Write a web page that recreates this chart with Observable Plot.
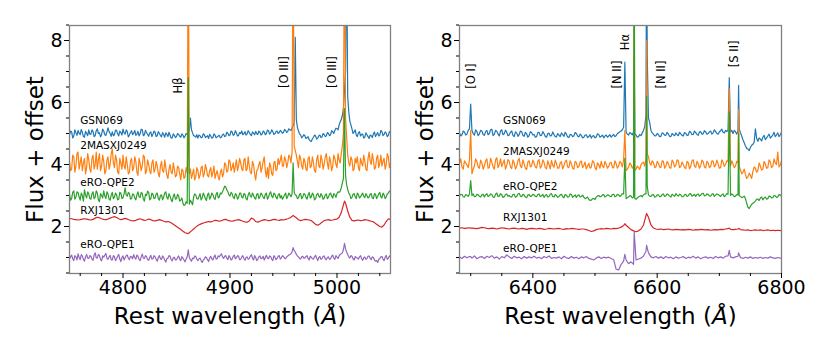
<!DOCTYPE html>
<html><head><meta charset="utf-8">
<script src="https://cdn.jsdelivr.net/npm/d3@7"></script>
<script src="https://cdn.jsdelivr.net/npm/@observablehq/plot@0.6"></script>
<style>
html,body{margin:0;padding:0;background:#fff;}
#wrap{display:flex;width:830px;height:356px;overflow:hidden;}
#wrap svg{display:block;}
</style></head><body><div id="wrap"></div>
<script>
// ---------- series ----------
const names = ["GSN069","2MASXJ0249","eRO-QPE2","RXJ1301","eRO-QPE1"];
const colors = ["#1f77b4","#ff7f0e","#2ca02c","#d62728","#9467bd"];

// ---------- left panel (H-beta / [O III]) ----------
// values read every 2 Å from 4750 (even) and, for the noisy spectra, in between (odd Å from 4751)
const startL = 4750, midStartL = 4751, stepL = 2;
const gsnL = [
4.95,5.05,4.92,5.02,5.10,4.96,5.04,4.88,5.00,5.12,
4.98,5.06,4.93,5.15,5.02,4.97,5.08,4.94,5.18,5.00,
5.05,4.96,5.10,4.92,5.03,5.14,4.98,5.06,4.95,5.09,
5.01,4.94,5.07,4.99,5.12,4.96,5.03,4.91,5.05,4.98,
5.04,4.93,5.00,4.89,4.97,5.02,4.90,4.95,4.86,4.94,
4.90,4.97,4.88,4.95,4.92,4.98,5.10,5.12,4.93,4.88,
4.85,4.93,4.88,4.96,4.90,4.84,4.92,4.87,4.95,4.89,
4.94,4.88,4.98,4.92,5.01,4.95,5.05,4.97,5.02,4.94,
5.00,4.96,5.06,4.99,5.03,4.93,5.01,5.07,4.97,5.04,
4.98,5.05,5.00,5.09,5.02,5.06,4.99,5.08,5.03,5.06,
5.04,5.10,5.07,5.12,5.18,5.35,5.45,5.08,4.95,4.90,
4.93,4.86,4.80,4.74,4.88,4.92,4.85,4.95,4.89,4.97,
4.92,5.00,4.96,5.06,5.10,5.16,5.28,5.45,5.80,7.00,
6.20,5.40,5.15,5.05,4.95,5.02,4.92,4.98,4.88,4.96,
4.84,4.93,4.99,4.90,5.03,4.95,5.06,4.97,5.01,4.94,
5.02,4.98];
const gsnMidL = [
5.08,4.86,5.12,4.94,5.01,5.13,4.90,5.07,4.93,4.97,
5.12,4.90,5.09,5.00,4.89,5.14,4.96,5.05,5.06,4.91,
4.93,5.11,4.99,5.08,4.95,5.02,5.12,4.89,5.03,4.96,
5.10,4.98,4.92,5.14,4.93,5.10,4.97,5.02,4.90,5.08,
4.90,5.06,4.94,5.03,4.88,4.97,5.04,4.85,4.99,4.87,
5.00,4.91,4.99,4.86,5.00,5.04,5.30,5.02,4.92,4.96,
4.95,4.86,4.99,4.87,4.93,4.97,4.85,4.99,4.86,4.92,
4.86,4.96,4.90,5.04,4.93,5.08,4.94,5.09,4.92,5.03,
5.08,4.99,4.95,5.09,4.97,5.05,4.96,4.99,5.08,4.95,
5.08,4.96,5.11,4.98,5.12,4.97,5.06,5.00,5.10,5.01,
5.13,5.03,5.15,5.10,5.25,6.00,5.20,4.99,4.86,4.96,
4.84,4.90,4.76,4.83,4.95,4.82,4.93,4.87,5.00,4.90,
5.03,4.93,5.09,5.00,5.17,5.12,5.38,5.58,6.40,11.0,
5.70,5.28,5.00,5.12,4.90,5.06,4.97,4.85,5.02,4.90,
4.95,4.87,5.05,4.97,4.92,5.10,4.93,5.05,4.90,5.06,
4.93];
const masxL = [
4.10,3.85,4.25,3.95,4.40,4.05,3.80,4.20,3.90,4.15,
3.75,4.30,4.00,3.85,4.35,3.95,4.10,3.80,4.25,4.00,
4.50,3.90,4.15,3.70,4.05,4.30,3.85,4.00,3.75,4.20,
3.90,4.10,3.65,4.05,3.95,4.25,3.80,4.00,3.70,4.15,
3.85,3.95,3.60,4.10,3.75,3.90,3.55,4.00,3.70,3.85,
3.65,3.90,3.50,3.80,3.60,3.75,3.70,3.55,3.85,3.60,
3.80,3.65,3.95,3.70,3.85,3.60,3.90,3.75,3.55,3.80,
3.50,3.85,3.70,4.00,3.80,4.10,3.90,3.75,4.15,3.95,
4.05,3.80,4.20,3.85,3.95,3.70,4.00,3.50,3.85,4.10,
3.90,4.25,3.60,3.55,3.95,3.65,4.10,3.85,4.00,4.30,
3.95,4.15,4.05,4.25,4.40,4.60,4.30,3.90,4.20,3.85,
4.10,3.80,4.25,3.95,4.05,3.75,4.30,3.90,4.15,4.00,
4.35,3.85,4.10,3.95,4.20,3.90,4.15,4.35,5.00,5.50,
4.30,3.95,4.15,3.85,4.05,3.90,4.20,3.95,4.10,3.80,
4.40,4.00,4.15,3.90,4.30,4.05,3.95,4.20,4.00,4.25,
4.05,4.15];
const masxMidL = [
3.80,4.30,3.75,4.35,3.85,4.25,4.05,3.70,4.35,3.85,
4.20,3.85,4.40,4.15,3.80,4.30,3.70,4.15,3.85,4.35,
4.05,4.30,3.75,4.20,3.85,3.95,4.25,3.70,4.10,3.80,
4.25,3.75,4.20,3.80,4.30,3.70,4.15,3.80,4.05,3.75,
4.10,3.70,3.95,3.80,4.15,3.65,3.85,3.75,4.05,3.60,
3.95,3.70,3.85,3.55,3.90,12.0,3.85,3.70,3.50,3.90,
3.55,3.90,3.60,4.00,3.65,3.80,3.60,3.95,3.70,3.60,
3.75,3.60,4.05,3.75,4.15,3.80,4.05,3.95,3.80,4.20,
3.85,4.15,3.80,4.25,3.75,4.10,3.70,3.80,4.00,3.75,
4.10,3.80,3.90,4.05,3.70,4.05,3.80,4.20,4.15,3.95,
4.25,3.90,4.30,4.05,12.0,4.45,4.10,4.30,3.95,4.20,
3.85,4.20,3.90,4.25,3.80,4.15,3.95,4.30,3.85,4.25,
4.05,4.25,3.80,4.30,4.00,4.35,4.05,4.60,12.0,4.90,
4.05,4.25,3.80,4.20,4.25,3.80,4.05,4.30,3.85,4.20,
4.10,4.35,3.85,4.20,3.90,4.30,4.10,3.85,4.35,3.90,
4.20];
const qpe2L = [
3.05,2.90,3.15,2.95,3.10,2.85,3.00,3.18,2.92,3.05,
2.88,3.12,2.95,3.08,2.80,3.00,3.15,2.90,3.05,2.85,
3.10,2.95,3.02,2.88,3.08,2.93,3.25,2.98,3.06,2.90,
3.03,2.86,3.12,2.94,3.07,2.82,3.00,3.10,2.90,3.04,
2.92,3.08,2.85,3.02,2.95,3.12,2.88,2.98,2.80,3.05,
2.90,2.98,2.85,2.75,2.70,2.75,2.72,2.78,2.95,3.02,
2.88,3.06,2.92,3.00,2.84,3.08,2.95,3.03,2.87,3.10,
2.96,3.05,3.20,3.28,3.12,2.98,3.06,2.90,3.02,2.94,
3.08,2.92,3.04,2.86,3.10,2.95,3.00,2.88,3.06,2.97,
3.02,2.90,3.08,2.95,3.12,2.93,3.04,2.89,3.06,3.00,
2.94,3.08,2.97,3.02,3.05,3.10,3.00,2.92,3.06,2.95,
3.04,2.88,3.10,2.96,3.02,2.90,3.07,2.94,3.00,2.91,
3.05,2.95,3.08,2.92,3.02,3.06,3.10,3.25,3.55,3.65,
3.20,3.02,2.94,3.06,2.90,3.03,2.96,3.08,2.93,3.00,
2.95,3.06,2.90,3.04,2.97,3.10,2.92,3.02,2.96,3.08,
3.12,3.05];
const qpe2MidL = [
2.85,3.10,2.88,3.12,2.95,3.08,2.82,3.02,3.12,2.90,
3.05,2.90,3.15,2.86,3.06,2.92,2.98,3.12,2.88,3.02,
2.90,3.08,2.86,3.10,2.90,3.05,3.02,3.10,2.88,3.05,
2.92,3.02,2.96,3.10,2.88,3.04,3.14,2.86,3.08,2.90,
3.05,2.90,3.00,2.86,3.08,2.94,3.06,2.86,2.98,2.88,
3.04,2.82,2.92,2.68,2.80,6.80,2.85,2.70,3.05,2.90,
2.97,2.86,3.08,2.90,3.02,2.88,3.08,2.92,3.04,2.92,
3.08,3.12,3.30,3.18,3.02,3.10,2.94,3.06,2.88,3.08,
2.95,3.06,2.90,3.02,2.98,3.08,2.92,3.04,2.90,3.08,
2.94,3.04,2.88,3.06,2.98,3.08,2.94,3.02,2.92,2.88,
3.02,2.90,3.08,2.96,4.05,3.02,2.90,3.04,2.90,3.06,
2.94,3.02,2.92,3.08,2.86,3.02,2.98,3.06,2.88,3.02,
2.90,3.04,2.98,3.06,2.94,3.12,3.14,3.40,5.80,3.35,
3.08,2.90,3.04,2.96,3.08,2.92,3.02,2.97,3.06,2.92,
3.04,2.92,3.06,2.90,3.05,2.96,3.08,2.90,3.05,3.14,
3.02];
const rxjL = [
2.26,2.25,2.23,2.22,2.21,2.22,2.24,2.25,2.24,2.22,
2.21,2.23,2.27,2.30,2.28,2.25,2.23,2.22,2.24,2.27,
2.30,2.32,2.29,2.25,2.22,2.24,2.26,2.24,2.21,2.19,
2.18,2.20,2.23,2.25,2.22,2.20,2.21,2.24,2.22,2.19,
2.18,2.20,2.22,2.20,2.17,2.15,2.16,2.14,2.10,2.05,
2.00,1.95,1.90,1.85,1.80,1.78,1.80,1.86,1.92,1.98,
2.03,2.07,2.10,2.12,2.14,2.16,2.15,2.17,2.20,2.19,
2.17,2.19,2.22,2.23,2.20,2.18,2.17,2.19,2.21,2.22,
2.20,2.17,2.15,2.14,2.18,2.27,2.24,2.16,2.14,2.17,
2.20,2.22,2.21,2.19,2.20,2.22,2.23,2.21,2.20,2.22,
2.21,2.23,2.25,2.28,2.32,2.33,2.28,2.22,2.19,2.21,
2.23,2.22,2.21,2.19,2.13,2.07,2.04,2.08,2.14,2.19,
2.21,2.22,2.20,2.21,2.23,2.24,2.30,2.45,2.70,2.75,
2.50,2.30,2.20,2.18,2.20,2.21,2.19,2.20,2.22,2.21,
2.19,2.17,2.15,2.10,2.05,2.00,1.98,2.05,2.16,2.25,
2.22,2.20];
const rxjMidL = [];
const qpe1L = [
0.95,1.08,0.90,1.02,1.12,0.93,1.05,0.88,1.10,0.97,
1.04,0.91,1.15,0.98,1.06,0.89,1.01,1.13,0.94,1.07,
0.92,1.03,0.96,1.10,0.87,1.05,0.99,1.08,0.93,1.02,
1.09,0.95,1.04,0.90,1.11,0.97,1.03,0.91,1.07,0.96,
1.02,0.88,1.06,0.94,1.00,0.85,0.98,1.04,0.89,1.01,
0.93,1.05,0.90,0.98,0.86,1.02,1.00,0.88,0.96,1.03,
0.90,0.98,0.84,0.95,1.00,0.87,1.04,0.92,1.08,0.96,
1.02,1.12,0.97,1.06,0.93,1.01,0.95,1.08,0.99,1.04,
0.94,1.06,0.91,1.02,0.97,1.09,0.92,1.00,0.95,1.05,
0.98,0.92,1.07,0.96,1.03,0.90,1.01,0.97,1.06,0.99,
1.03,0.96,1.05,1.10,1.18,1.22,1.10,1.02,0.95,1.04,
0.98,1.06,0.92,1.01,0.95,1.07,0.90,1.03,0.97,1.05,
0.93,1.02,0.96,1.08,0.94,1.01,1.05,1.12,1.25,1.28,
1.10,0.98,1.04,0.92,1.00,0.95,1.06,0.91,1.02,0.97,
1.05,0.93,1.00,0.88,0.84,0.96,1.03,0.90,1.07,0.98,
1.03,0.95];
const qpe1MidL = [
1.02,0.96,1.06,0.92,1.00,1.09,0.94,1.02,0.98,1.06,
0.95,1.08,0.99,1.10,0.94,1.05,1.08,0.97,1.02,0.92,
1.06,0.90,1.04,0.95,1.00,0.92,1.06,0.97,1.04,0.96,
1.00,1.08,0.94,1.02,0.98,1.06,0.93,1.00,0.95,1.06,
0.94,1.00,0.96,1.05,0.92,0.96,1.06,0.93,0.99,0.92,
1.00,0.95,1.03,0.92,0.95,1.25,0.93,0.98,1.05,0.94,
0.96,0.90,0.92,1.02,0.93,0.98,0.96,1.02,0.95,1.05,
1.08,1.02,1.04,0.98,1.06,0.92,1.04,0.96,1.06,0.93,
1.02,0.97,1.00,0.94,1.04,0.98,1.06,0.90,1.02,0.96,
1.04,0.99,0.98,1.05,0.94,1.06,0.93,1.04,0.95,1.06,
0.98,1.02,1.08,1.12,1.32,1.18,1.05,0.97,1.02,0.98,
1.03,0.97,1.04,0.96,1.02,0.98,1.00,0.94,1.04,0.96,
1.00,0.94,1.04,0.98,1.06,0.97,1.10,1.15,1.46,1.18,
1.02,1.06,0.96,1.03,0.98,1.02,0.96,0.99,0.94,1.04,
0.98,1.02,0.92,0.90,0.94,1.02,0.95,1.01,0.94,1.05,
0.99];
// emission-line peaks (wavelength, value) left
const lineWavesL = [4861, 4959, 5007];
const gsnLineWavesL = [4863, 4961, 5009];
const gsnPeaksL = [5.5, 8.1, 11];
const masxPeaksL = [12, 12, 12];
const qpe2PeaksL = [6.8, 4.05, 5.8];
const rxjPeaksL = [1.77, 2.36, 2.82];
const qpe1PeaksL = [1.25, 1.32, 1.46];

// ---------- right panel (H-alpha region) ----------
// values read every 4 Å from 6282 and, for the noisy spectra, in between (from 6284)
const startR = 6282, midStartR = 6284, stepR = 4;
const gsnR = [
5.02,4.96,5.05,4.98,5.15,5.10,4.95,5.06,4.99,5.08,
4.94,5.10,5.00,5.14,4.97,5.07,4.92,5.12,4.99,5.04,
4.95,5.08,4.90,5.02,4.96,5.06,4.91,4.99,4.93,5.03,
4.97,4.90,5.04,4.94,4.99,4.88,5.01,4.93,4.97,4.89,
4.95,5.02,4.91,4.98,4.87,4.96,4.92,5.00,4.89,4.94,
4.88,4.96,4.90,4.85,4.93,4.89,4.97,4.91,4.86,4.95,
4.92,4.88,4.97,4.93,5.02,5.08,5.20,5.05,4.95,5.00,
5.05,4.95,4.90,4.93,5.10,5.60,5.50,5.10,4.98,4.93,
4.97,4.91,5.00,4.94,4.98,4.90,4.96,5.02,4.93,4.99,
4.92,5.01,4.95,5.04,4.97,5.03,4.94,5.06,4.99,5.05,
5.00,5.08,5.02,5.06,4.98,5.09,5.04,5.10,5.12,5.05,
5.00,5.06,5.08,5.02,4.80,4.60,4.50,4.55,4.65,5.15,
4.75,4.82,4.88,4.80,4.92,4.85,4.95,4.90,5.02,4.96,
5.00];
const gsnMidR = [
4.92,5.08,4.95,5.10,5.95,5.00,5.12,4.93,5.10,4.97,
5.06,4.96,5.12,4.93,5.10,4.98,5.08,4.96,5.11,4.93,
5.04,4.94,5.05,4.91,5.08,4.94,5.04,4.88,5.06,4.95,
4.88,5.03,4.93,5.06,4.90,5.00,4.92,5.05,4.90,5.00,
4.90,4.96,5.04,4.89,4.97,4.90,5.03,4.92,4.98,4.86,
4.95,4.87,4.96,4.92,4.86,4.99,4.88,4.95,4.92,4.88,
4.96,4.93,4.90,5.00,5.06,5.12,7.30,4.98,5.03,4.96,
5.00,4.88,4.97,5.02,5.22,7.50,5.35,5.02,4.92,5.00,
4.90,5.02,4.95,5.04,4.91,5.00,4.93,4.96,5.04,4.94,
5.03,4.94,5.07,4.96,5.08,4.97,5.05,4.98,5.09,4.98,
5.05,4.98,5.12,5.00,5.05,5.14,5.02,5.06,6.80,5.10,
5.10,4.98,5.15,4.92,4.70,4.52,4.45,4.62,4.72,4.85,
4.86,4.76,4.94,4.86,4.98,4.90,5.04,4.95,4.90,5.04];
const masxR = [
4.05,3.92,4.12,3.98,4.15,3.70,3.95,4.10,3.88,4.06,
3.95,4.18,3.90,4.08,3.85,4.22,4.00,3.93,4.15,3.97,
4.10,3.87,4.05,3.94,4.20,3.90,4.02,3.84,4.12,3.96,
4.04,3.89,4.16,3.95,4.07,3.86,4.00,4.13,3.91,4.03,
3.88,4.09,3.96,4.14,3.90,4.02,3.85,4.06,3.93,4.11,
3.97,3.86,4.04,3.92,4.08,3.83,3.99,4.10,3.90,4.01,
3.94,4.07,3.89,4.03,3.95,4.05,4.15,3.80,3.92,4.00,
3.95,3.85,3.90,4.00,4.08,4.20,4.25,3.98,4.06,3.92,
4.04,3.90,4.10,3.95,4.02,3.88,4.08,3.97,4.12,3.93,
4.00,3.87,4.06,3.94,4.15,3.91,4.03,3.96,4.09,3.89,
4.05,3.93,4.11,3.98,4.02,3.90,4.08,4.00,4.10,3.95,
4.02,3.95,4.05,3.82,3.75,3.68,3.60,3.65,3.78,3.88,
3.80,3.95,3.85,4.02,3.90,4.08,3.94,4.05,4.40,3.98,
4.05];
const masxMidR = [
4.18,3.85,4.05,3.90,5.10,3.85,4.18,3.92,4.14,3.85,
4.12,3.88,4.20,3.92,4.15,3.90,4.18,4.05,3.85,4.16,
3.92,4.15,3.85,4.12,3.95,4.15,3.88,4.08,3.92,4.14,
3.92,4.10,3.88,4.15,3.90,4.12,3.86,3.98,4.14,3.88,
4.05,3.86,4.10,3.92,4.12,3.88,4.10,3.90,4.08,3.90,
4.08,3.95,3.88,4.12,3.90,4.05,3.88,3.95,4.10,3.88,
4.05,3.90,4.12,3.88,4.10,3.92,5.10,3.85,4.05,3.88,
3.80,3.95,3.84,4.05,3.95,4.35,4.05,4.12,3.90,4.10,
3.92,4.12,3.88,4.10,3.90,4.14,3.92,4.15,3.90,4.08,
3.90,4.10,3.86,4.12,3.95,4.10,3.88,4.14,3.92,4.10,
3.90,4.12,3.92,4.14,3.88,4.15,3.94,4.12,6.45,4.12,
3.90,4.10,3.95,3.70,3.85,3.55,3.72,3.55,3.92,3.75,
4.05,3.82,4.10,3.88,4.15,3.90,4.18,4.00,3.92,4.12];
const qpe2R = [
2.98,3.03,2.95,3.01,3.05,3.00,2.96,3.04,2.97,3.02,
2.95,3.06,2.99,3.03,2.94,3.08,2.98,3.02,2.96,3.05,
3.00,2.95,3.04,2.97,3.07,2.96,3.01,2.93,3.03,2.98,
3.02,2.96,3.05,2.99,2.94,3.03,2.97,3.06,2.95,3.00,
2.97,3.04,2.93,3.01,2.96,3.03,2.98,2.94,3.02,2.97,
2.95,2.92,2.88,2.85,2.90,2.95,3.00,2.97,3.03,2.98,
3.01,2.96,3.04,2.98,3.02,3.00,3.05,2.90,2.95,2.98,
2.95,2.88,2.95,3.00,3.02,3.05,3.02,2.97,3.03,2.96,
3.02,2.97,3.05,2.99,3.03,2.95,3.01,3.06,2.98,3.02,
2.96,3.04,2.99,3.06,3.00,2.97,3.05,3.01,3.07,3.00,
3.04,2.98,3.06,3.01,3.03,2.97,3.05,3.00,3.04,3.00,
3.02,2.98,3.02,2.97,2.95,2.90,2.62,2.65,2.75,2.82,
2.88,2.92,2.86,2.95,2.90,2.97,2.93,2.99,2.95,3.02,
2.98];
const qpe2MidR = [
3.04,2.96,3.03,2.97,3.48,3.05,2.97,3.02,2.95,3.04,
3.02,2.97,3.05,2.95,3.04,2.97,3.06,2.94,3.03,2.98,
2.96,3.03,2.94,3.05,2.98,3.04,2.95,3.02,2.97,3.04,
2.97,3.03,2.96,3.04,3.00,2.95,3.04,2.97,3.03,2.94,
3.02,2.96,3.03,2.95,3.05,2.94,3.02,3.00,2.95,3.01,
2.90,2.95,2.84,2.90,2.87,2.99,2.96,3.02,2.95,3.02,
2.97,3.03,2.96,3.04,2.97,3.06,4.20,2.93,3.00,2.92,
2.90,2.92,2.98,2.96,3.05,3.30,2.98,3.02,2.95,3.02,
2.96,3.03,2.97,3.05,2.98,3.04,2.97,3.01,3.04,2.96,
3.02,2.97,3.05,2.98,3.04,3.03,2.98,3.06,2.99,3.05,
2.99,3.04,2.97,3.05,3.00,3.02,2.96,3.06,5.70,3.05,
2.96,3.03,3.00,2.93,2.98,2.75,2.58,2.72,2.78,2.88,
2.84,2.95,2.92,2.88,2.98,2.92,3.00,2.94,3.03,2.97];
const rxjR = [
1.95,1.96,1.94,1.95,1.96,1.95,1.94,1.93,1.95,1.97,
1.96,1.94,1.93,1.95,1.94,1.92,1.94,1.96,1.95,1.93,
1.92,1.94,1.95,1.93,1.92,1.94,1.93,1.91,1.93,1.94,
1.93,1.92,1.94,1.93,1.91,1.92,1.94,1.93,1.92,1.93,
1.94,1.92,1.91,1.93,1.92,1.94,1.93,1.92,1.91,1.92,
1.92,1.90,1.87,1.84,1.86,1.90,1.92,1.93,1.92,1.94,
1.93,1.92,1.94,1.93,1.95,1.98,2.03,2.04,1.97,1.90,
1.86,1.83,1.86,1.92,2.05,2.35,2.30,2.05,1.95,1.92,
1.91,1.92,1.90,1.91,1.92,1.90,1.89,1.91,1.90,1.89,
1.90,1.89,1.91,1.90,1.88,1.90,1.89,1.91,1.90,1.89,
1.90,1.88,1.89,1.90,1.89,1.91,1.90,1.92,1.93,1.91,
1.90,1.91,1.92,1.90,1.89,1.88,1.89,1.87,1.88,1.89,
1.88,1.89,1.87,1.88,1.89,1.87,1.88,1.87,1.88,1.87,
1.88];
const rxjMidR = [];
const qpe1R = [
1.02,0.97,1.04,0.99,1.03,0.98,1.05,0.96,1.01,1.03,
0.97,1.04,1.00,1.06,0.98,1.02,0.95,1.03,0.99,1.08,
1.02,0.97,1.04,0.99,1.01,0.96,1.03,0.98,1.02,0.99,
1.04,0.98,1.01,0.96,1.03,0.99,1.05,0.97,1.00,0.98,
1.02,0.96,1.04,0.99,0.97,1.03,0.98,1.01,0.96,1.02,
0.99,1.03,0.97,0.95,0.92,0.98,1.02,0.97,1.01,0.99,
1.01,0.97,0.93,0.62,0.60,0.78,0.88,0.92,0.80,0.86,
0.78,0.92,0.95,0.98,1.05,1.20,1.15,1.02,0.99,1.03,
0.98,1.02,0.97,1.03,0.99,1.01,0.96,1.02,0.98,1.00,
1.03,0.97,1.01,0.99,1.04,0.98,1.02,0.96,1.00,1.02,
0.98,1.01,0.97,1.03,0.99,1.02,0.98,1.04,1.05,1.02,
0.99,1.02,1.04,1.00,0.97,1.01,0.98,1.02,0.97,1.00,
0.98,1.01,0.97,1.00,0.98,1.02,0.99,0.97,1.00,0.98,
0.99];
const qpe1MidR = [];
const lineWavesR = [6300, 6548, 6563, 6583, 6716, 6731];
const gsnPeaksR = [5.95, 7.3, 7.5, 12, 6.8, 6.55];
const masxPeaksR = [5.1, 5.1, 12, 8.0, 6.45, 5.77];
const qpe2PeaksR = [3.48, 4.2, 12, 6.2, 5.7, 5.0];
const rxjPeaksR = [1.95, 2.09, 1.85, 2.42, 1.95, 1.94];
const qpe1PeaksR = [1.03, 1.1, 1.82, 1.39, 1.23, 1.15];

// ---------- labels & ticks ----------
const xMajorL = [4800, 4900, 5000];
const xMinorL = [4760,4780,4820,4840,4860,4880,4920,4940,4960,4980,5020,5040];
const xMajorR = [6400, 6600, 6800];
const xMinorR = [6300,6350,6450,6500,6550,6650,6700,6750];
const yMajor = [2, 4, 6, 8];
const yMinor = [0.5,1,1.5,2.5,3,3.5,4.5,5,5.5,6.5,7,7.5,8.5];
const labelYL = [5.40, 4.62, 3.43, 2.52, 1.42];
const labelYR = [5.40, 4.40, 3.30, 2.30, 1.30];
const lineTextL = ["Hβ", "[O III]", "[O III]"];
const lineTextXL = [4852, 4950.3, 4995.3];
const lineTextYL = [6.55, 6.98, 6.98];
const lineTextR = ["[O I]", "[N II]", "Hα", "[N II]", "[S II]"];
const lineTextXR = [6301, 6536, 6548.5, 6606.5, 6724];
const lineTextYR = [6.85, 6.9, 7.95, 6.9, 7.57];
const yLabel = "Flux + offset";
const xLabel = "Rest wavelength (Å)";

// ---------- build ----------
function build(name, base, mid, start, midStart, step, pw, pv) {
  const pts = base.map((f, i) => ({name, w: start + step * i, f}));
  mid.forEach((f, i) => { const w = midStart + step * i; if (!pw.includes(w)) pts.push({name, w, f}); });
  pw.forEach((w, i) => pts.push({name, w, f: pv[i]}));
  return pts.sort((a, b) => a.w - b.w);
}
const dataL = [
  ...build(names[0], gsnL, gsnMidL, startL, midStartL, stepL, gsnLineWavesL, gsnPeaksL),
  ...build(names[1], masxL, masxMidL, startL, midStartL, stepL, lineWavesL, masxPeaksL),
  ...build(names[2], qpe2L, qpe2MidL, startL, midStartL, stepL, lineWavesL, qpe2PeaksL),
  ...build(names[3], rxjL, rxjMidL, startL, midStartL, stepL, lineWavesL, rxjPeaksL),
  ...build(names[4], qpe1L, qpe1MidL, startL, midStartL, stepL, lineWavesL, qpe1PeaksL)
];
const dataR = [
  ...build(names[0], gsnR, gsnMidR, startR, midStartR, stepR, lineWavesR, gsnPeaksR),
  ...build(names[1], masxR, masxMidR, startR, midStartR, stepR, lineWavesR, masxPeaksR),
  ...build(names[2], qpe2R, qpe2MidR, startR, midStartR, stepR, lineWavesR, qpe2PeaksR),
  ...build(names[3], rxjR, rxjMidR, startR, midStartR, stepR, lineWavesR, rxjPeaksR),
  ...build(names[4], qpe1R, qpe1MidR, startR, midStartR, stepR, lineWavesR, qpe1PeaksR)
];

const FONT = "'DejaVu Sans', sans-serif";
function panel(o) {
  const seriesLab = names.map((n, i) => ({n, x: o.labX, y: o.labY[i]}));
  const lineLab = o.lineText.map((t, i) => ({t, x: o.lineX[i], y: o.lineY[i]}));
  const svg = Plot.plot({
    width: 415, height: 356,
    marginLeft: o.ml, marginRight: o.mr, marginTop: 25, marginBottom: 83,
    x: {domain: o.domain, label: null},
    y: {domain: [0.484, 8.484], label: null},
    color: {domain: names, range: colors},
    style: {fontFamily: FONT, color: "black", background: "white", overflow: "visible"},
    marks: [
      Plot.line(o.data, {x: "w", y: "f", z: "name", stroke: "name", strokeWidth: 1.2, clip: true}),
      Plot.frame({stroke: "#808080", strokeWidth: 1.3}),
      Plot.axisX(o.xMinor, {tickSize: 3, tickFormat: () => "", label: null}),
      Plot.axisX(o.xMajor, {tickSize: 5, tickPadding: 2, fontSize: 19, tickFormat: d => String(d), label: null}),
      Plot.axisY(yMinor, {tickSize: 3, tickFormat: () => "", label: null}),
      Plot.axisY(yMajor, {tickSize: 5, tickPadding: 2, fontSize: 19, tickFormat: d => String(d), label: null}),
      Plot.text(seriesLab, {x: "x", y: "y", text: "n", textAnchor: "start", lineAnchor: "middle", fontSize: 10.5, fill: "black"}),
      Plot.text(lineLab, {x: "x", y: "y", text: "t", rotate: -90, textAnchor: "middle", lineAnchor: "middle", fontSize: 11.5, fill: "black"}),
      Plot.text([yLabel], {text: d => d, frameAnchor: "left", textAnchor: "middle", lineAnchor: "middle", rotate: -90, dx: -34, fontSize: 23, fill: "black"}),
      Plot.text([xLabel], {text: d => d, frameAnchor: "bottom", textAnchor: "middle", lineAnchor: "middle", dy: 43, fontSize: 23, fill: "black"})
    ]
  });
  // italic Å like the mathtext original
  svg.querySelectorAll("text").forEach(t => {
    if (t.textContent === xLabel) {
      const s = d3.select(t); s.text(null);
      s.append("tspan").text("Rest wavelength (");
      s.append("tspan").attr("font-style", "italic").text("Å");
      s.append("tspan").text(")");
    }
  });
  return svg;
}
const wrap = document.getElementById("wrap");
wrap.appendChild(panel({data: dataL, domain: [4750, 5050], ml: 69, mr: 25,
  xMajor: xMajorL, xMinor: xMinorL, labX: 4760, labY: labelYL,
  lineText: lineTextL, lineX: lineTextXL, lineY: lineTextYL}));
wrap.appendChild(panel({data: dataR, domain: [6282, 6800], ml: 44, mr: 49,
  xMajor: xMajorR, xMinor: xMinorR, labX: 6352, labY: labelYR,
  lineText: lineTextR, lineX: lineTextXR, lineY: lineTextYR}));
</script></body></html>
